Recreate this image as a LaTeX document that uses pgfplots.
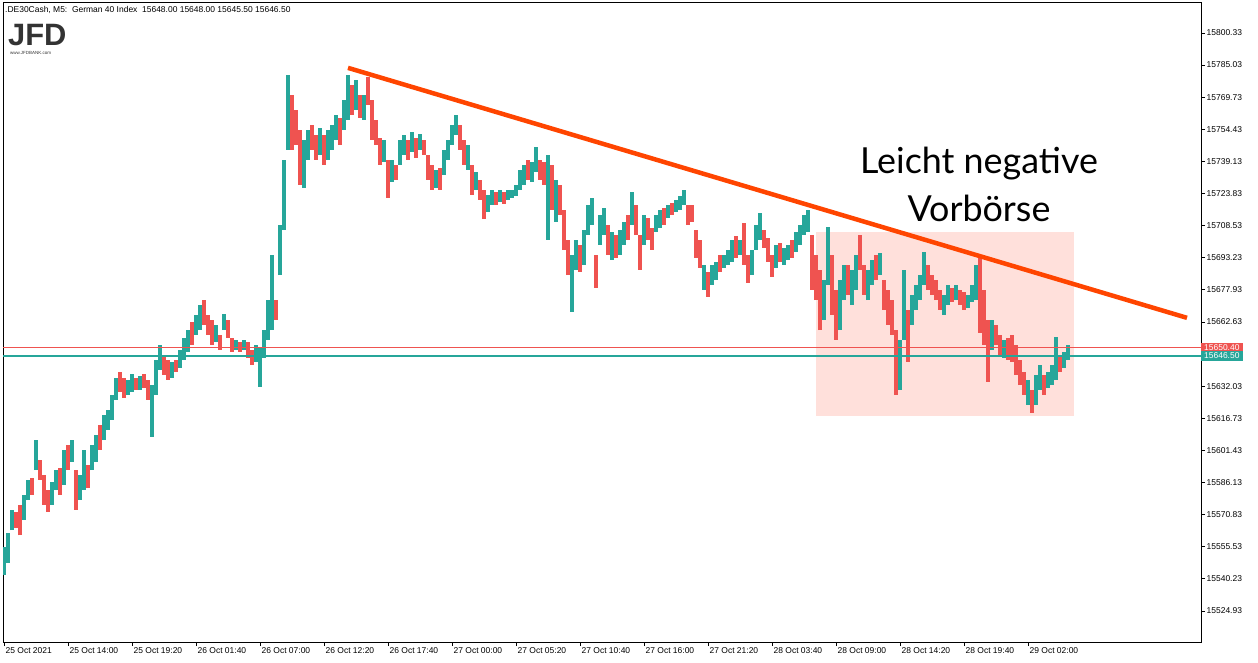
\documentclass[border=0pt]{standalone}
\usepackage{fontspec}
\setmainfont{Liberation Sans}
\newfontfamily\latofont{Lato}
\usepackage{pgfplots}
\usepackage{pgfplotstable}
\pgfplotsset{compat=1.18}
\definecolor{upc}{RGB}{38,166,154}
\definecolor{dnc}{RGB}{239,83,80}
\definecolor{trend}{RGB}{255,69,0}
\definecolor{zone}{RGB}{255,224,219}
\definecolor{logo}{RGB}{51,51,51}

% M5 bars, grouped by 4: bar index, low, high, up(1)/down(0)
\pgfplotstableread{
x lo hi d
0 15542.1 15555.5 1
4 15547.8 15562.1 1
8 15563.5 15573.1 1
12 15564.5 15572.0 0
16 15561.0 15575.5 0
20 15568.3 15580.2 1
24 15577.8 15587.4 1
28 15580.2 15588.3 0
32 15592.1 15606.4 1
36 15587.4 15596.9 0
40 15575.5 15589.8 0
44 15572.1 15582.6 0
48 15575.5 15586.4 1
52 15582.6 15592.1 1
56 15580.2 15593.1 0
60 15585.0 15601.7 1
64 15592.1 15604.1 0
68 15596.0 15606.4 1
72 15573.1 15592.1 0
76 15577.8 15589.8 1
80 15582.6 15601.7 1
84 15583.6 15594.5 0
88 15592.1 15604.1 1
92 15596.0 15608.8 1
96 15601.7 15613.6 0
100 15606.4 15618.3 1
104 15611.2 15620.7 1
108 15616.0 15627.9 1
112 15625.5 15636.0 1
116 15629.3 15638.8 0
120 15626.5 15636.0 0
124 15627.9 15635.0 1
128 15629.3 15637.9 1
132 15630.3 15636.0 0
136 15630.3 15637.0 1
140 15631.2 15637.9 0
144 15625.5 15635.0 0
148 15607.9 15632.6 1
152 15627.9 15644.6 1
156 15639.8 15651.7 1
160 15637.4 15646.9 0
164 15635.0 15644.6 0
168 15636.0 15643.6 1
172 15638.8 15644.6 0
176 15640.8 15649.3 1
180 15644.6 15655.0 1
184 15648.4 15658.8 1
188 15651.7 15662.7 0
192 15656.5 15666.0 1
196 15658.8 15670.8 1
200 15661.2 15673.1 0
204 15656.5 15666.0 0
208 15651.7 15663.6 0
212 15653.1 15661.2 1
216 15649.3 15656.5 0
220 15658.8 15666.5 1
224 15655.0 15663.6 0
228 15648.4 15655.0 0
232 15649.3 15654.1 1
236 15648.4 15653.1 0
240 15649.3 15654.1 1
244 15645.5 15653.1 0
248 15642.2 15649.3 0
252 15643.6 15651.7 1
256 15631.7 15650.3 1
260 15645.5 15658.8 1
264 15654.1 15673.1 1
268 15658.8 15694.6 1
272 15663.6 15673.1 0
276 15685.0 15708.9 1
280 15706.5 15739.9 1
284 15744.6 15780.4 1
288 15744.6 15770.8 0
292 15747.0 15763.7 0
296 15728.0 15754.2 0
300 15726.5 15749.4 1
304 15739.9 15754.2 1
308 15744.6 15756.5 0
312 15739.9 15751.8 0
316 15742.2 15755.1 1
320 15737.5 15751.8 0
324 15739.9 15754.2 1
328 15744.6 15756.5 1
332 15749.4 15761.3 1
336 15747.0 15759.9 0
340 15754.2 15768.5 1
344 15758.9 15780.4 1
348 15761.3 15775.6 0
352 15763.7 15778.0 1
356 15759.9 15770.8 0
360 15758.9 15770.8 1
364 15766.1 15779.4 0
368 15749.4 15768.5 0
372 15747.0 15758.9 0
376 15737.5 15750.3 0
380 15738.9 15749.4 1
384 15721.8 15739.9 0
388 15729.4 15739.9 1
392 15730.3 15737.5 0
396 15737.5 15749.4 1
400 15742.2 15751.8 1
404 15739.9 15749.4 0
408 15743.7 15753.2 1
412 15740.8 15750.3 0
416 15744.6 15752.2 1
420 15742.2 15749.4 0
424 15730.3 15742.2 0
428 15725.6 15737.5 0
432 15726.5 15735.1 1
436 15725.6 15736.1 0
440 15732.7 15744.6 1
444 15739.9 15749.4 1
448 15747.0 15756.5 1
452 15751.8 15761.3 1
456 15744.6 15756.5 0
460 15737.5 15749.4 0
464 15735.1 15747.0 1
468 15723.2 15737.5 0
472 15725.6 15734.1 1
476 15720.8 15730.3 0
480 15711.7 15725.6 0
484 15715.1 15723.2 1
488 15718.4 15725.6 1
492 15718.4 15724.6 0
496 15719.9 15725.6 1
500 15718.9 15724.6 0
504 15720.8 15725.6 1
508 15721.8 15725.6 1
512 15722.7 15728.0 1
516 15725.6 15735.1 1
520 15728.0 15737.5 1
524 15730.3 15739.9 0
528 15729.4 15738.9 1
532 15734.1 15746.0 1
536 15730.3 15739.9 0
540 15728.0 15738.9 0
544 15701.7 15742.2 1
548 15716.0 15737.5 0
552 15710.3 15730.3 1
556 15713.7 15728.0 0
560 15697.0 15716.0 0
564 15685.0 15701.7 0
568 15667.4 15694.6 1
572 15687.4 15701.7 1
576 15686.5 15699.4 0
580 15689.8 15706.5 1
584 15704.1 15718.4 1
588 15708.9 15721.8 1
592 15678.9 15694.6 0
596 15699.4 15713.7 1
600 15704.1 15717.0 1
604 15694.6 15708.9 0
608 15692.2 15705.6 1
612 15693.2 15704.1 0
616 15694.6 15706.5 1
620 15699.4 15710.3 1
624 15701.7 15713.7 0
628 15708.9 15724.6 1
632 15704.1 15718.4 0
636 15687.4 15704.1 0
640 15699.4 15713.7 1
644 15701.7 15712.2 0
648 15697.0 15707.5 0
652 15705.6 15713.7 1
656 15707.5 15716.0 1
660 15708.9 15717.0 0
664 15712.2 15718.4 1
668 15713.7 15719.4 0
672 15715.1 15720.8 1
676 15716.0 15722.7 1
680 15718.4 15725.6 1
684 15708.9 15718.4 0
688 15710.3 15718.4 0
692 15693.2 15706.5 0
696 15688.4 15701.7 0
700 15677.9 15689.8 1
704 15674.6 15686.5 0
708 15680.3 15689.8 1
712 15682.7 15691.3 1
716 15686.5 15694.6 0
720 15688.4 15694.6 1
724 15689.8 15697.0 1
728 15691.3 15701.7 1
732 15693.2 15703.6 0
736 15694.6 15701.7 1
740 15689.8 15709.8 0
744 15681.3 15694.6 0
748 15685.0 15697.0 1
752 15697.0 15708.9 1
756 15701.7 15714.6 1
760 15697.9 15706.5 0
764 15691.3 15702.7 0
768 15684.1 15694.6 0
772 15688.4 15699.4 1
776 15691.3 15700.3 0
780 15689.8 15697.9 1
784 15692.2 15699.4 1
788 15693.2 15701.7 0
792 15696.0 15705.6 1
796 15699.4 15708.9 1
800 15704.1 15713.7 1
804 15705.6 15716.0 1
808 15677.9 15704.1 0
812 15673.1 15694.6 0
816 15658.8 15687.4 0
820 15663.6 15682.7 1
824 15680.3 15707.9 1
828 15666.0 15694.6 0
832 15654.1 15677.9 0
836 15658.8 15682.7 1
840 15673.1 15689.8 1
844 15675.5 15689.8 0
848 15670.8 15687.4 1
852 15677.9 15694.6 1
856 15687.4 15704.1 0
860 15675.5 15689.8 0
864 15673.1 15687.4 1
868 15680.3 15692.2 1
872 15682.7 15694.6 0
876 15685.0 15695.5 1
880 15668.4 15682.7 0
884 15661.2 15677.9 0
888 15656.5 15673.1 0
892 15627.9 15658.8 0
896 15630.3 15654.1 1
900 15654.1 15687.4 1
904 15643.6 15668.4 0
908 15661.2 15675.5 1
912 15668.4 15680.3 1
916 15673.1 15685.0 1
920 15680.3 15696.0 1
924 15677.9 15689.8 0
928 15675.5 15685.0 0
932 15673.1 15682.7 0
936 15668.4 15677.9 0
940 15666.0 15675.5 1
944 15670.8 15680.3 1
948 15672.2 15678.9 0
952 15673.1 15680.3 1
956 15670.8 15677.9 0
960 15668.4 15676.9 0
964 15669.3 15675.5 1
968 15672.2 15680.3 1
972 15673.1 15689.8 1
976 15657.4 15693.7 0
980 15651.7 15677.9 0
984 15634.1 15663.6 0
988 15649.3 15663.6 1
992 15651.7 15661.2 0
996 15646.9 15656.5 0
1000 15645.5 15654.1 1
1004 15644.6 15655.0 0
1008 15643.6 15656.5 0
1012 15637.4 15651.7 0
1016 15632.6 15644.6 0
1020 15627.9 15638.8 0
1024 15623.1 15635.0 1
1028 15619.3 15630.3 0
1032 15623.1 15637.4 1
1036 15630.3 15642.2 1
1040 15627.9 15637.4 0
1044 15631.2 15638.8 1
1048 15632.6 15642.2 1
1052 15635.0 15655.5 1
1056 15638.8 15646.9 0
1060 15640.8 15648.4 1
1064 15644.6 15651.7 1
}\bars

\begin{document}
\begin{tikzpicture}
\useasboundingbox (0bp,0bp) rectangle (1258bp,-663bp);
\begin{axis}[
  at={(3bp,-642bp)}, anchor=south west,
  scale only axis, width=1198bp, height=639bp,
  xmin=-1, xmax=1197, ymin=15510.16, ymax=15814.6,
  clip mode=individual,
  axis line style={line width=1bp, black},
  tick align=outside, xtick pos=left, ytick pos=right,
  major tick length=4bp,
  every tick/.style={black, line width=0.8bp},
  xtick={0,64,...,1024},
  xticklabels={25 Oct 2021, 25 Oct 14:00, 25 Oct 19:20, 26 Oct 01:40, 26 Oct 07:00,
    26 Oct 12:20, 26 Oct 17:40, 27 Oct 00:00, 27 Oct 05:20, 27 Oct 10:40,
    27 Oct 16:00, 27 Oct 21:20, 28 Oct 03:40, 28 Oct 09:00, 28 Oct 14:20,
    28 Oct 19:40, 29 Oct 02:00},
  ytick={15524.93,15540.23,15555.53,15570.83,15586.13,15601.43,15616.73,15632.03,
    15662.63,15677.93,15693.23,15708.53,15723.83,15739.13,15754.43,15769.73,15785.03,15800.33},
  yticklabels={15524.93,15540.23,15555.53,15570.83,15586.13,15601.43,15616.73,15632.03,
    15662.63,15677.93,15693.23,15708.53,15723.83,15739.13,15754.43,15769.73,15785.03,15800.33},
  ticklabel style={font=\fontsize{8.5}{10}\selectfont},
  xticklabel style={anchor=north west, inner xsep=1.5bp, inner ysep=1bp},
  yticklabel style={anchor=west, inner xsep=1.5bp},
]
% pre-market zone
\addplot[fill=zone, draw=none] coordinates {(812,15617.9) (1070,15617.9) (1070,15705.6) (812,15705.6)} -- cycle;

% candles
\addplot[draw=none, mark=none, restrict expr to domain={\thisrow{d}}{1:1},
  error bars/.cd, y dir=plus, y explicit, error mark=none,
  error bar style={draw=upc, line width=3.6bp}]
  table[x=x, y=lo, y error expr=\thisrow{hi}-\thisrow{lo}] {\bars};
\addplot[draw=none, mark=none, restrict expr to domain={\thisrow{d}}{0:0},
  error bars/.cd, y dir=plus, y explicit, error mark=none,
  error bar style={draw=dnc, line width=3.6bp}]
  table[x=x, y=lo, y error expr=\thisrow{hi}-\thisrow{lo}] {\bars};

% bid / ask lines
\addplot[color=dnc, line width=1.4bp, mark=none] table[x=x, y=y] {
x y
-1 15650.4
1197 15650.4
};
\addplot[color=upc, line width=1.4bp, mark=none] table[x=x, y=y] {
x y
-1 15646.5
1197 15646.5
};

% trend line
\addplot[color=trend, line width=4.5bp, mark=none] coordinates {(344,15783.7) (1183,15664.6)};

\node[anchor=base, font=\latofont\fontsize{36}{40}\selectfont] at (axis cs:975,15733.2) {Leicht negative};
\node[anchor=base, font=\latofont\fontsize{36}{40}\selectfont] at (axis cs:975,15710.3) {Vorbörse};

\node[fill=dnc, text=white, anchor=west, inner xsep=3bp, inner ysep=0pt, minimum height=10bp,
  font=\fontsize{8.5}{10}\selectfont] at (axis cs:1197,15650.4) {15650.40};
\node[fill=upc, text=white, anchor=west, inner xsep=3bp, inner ysep=0pt, minimum height=10bp,
  font=\fontsize{8.5}{10}\selectfont] at (axis cs:1197,15646.5) {15646.50};
\end{axis}

\node[anchor=base west, inner sep=0pt, font=\fontsize{8.5}{10}\selectfont] at (5bp,-12bp)
  {.DE30Cash, M5:\ \ German 40 Index\ \ 15648.00 15648.00 15645.50 15646.50};
\node[anchor=base west, inner sep=0pt, text=logo, font=\fontsize{31}{31}\selectfont\bfseries] at (8bp,-45bp) {JFD};
\node[anchor=base west, inner sep=0pt, text=logo, font=\fontsize{4.5}{5}\selectfont] at (10bp,-54bp) {www.JFDBANK.com};
\end{tikzpicture}
\end{document}
